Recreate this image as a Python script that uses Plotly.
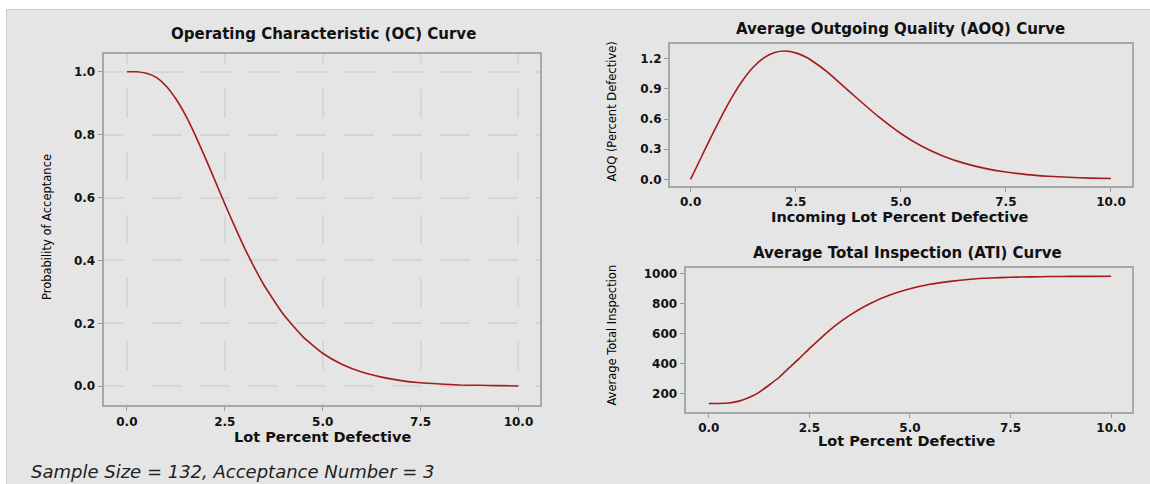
import plotly.graph_objects as go

# ---------------- data ----------------
lot_pct = [0.0, 0.25, 0.5, 0.75, 1.0, 1.25, 1.5, 1.75, 2.0, 2.25, 2.5, 2.75, 3.0, 3.25, 3.5,
           4.0, 4.5, 5.0, 5.5, 6.0, 6.5, 7.0, 7.5, 8.0, 8.5, 9.0, 9.5, 10.0]
prob_accept = [1.000, 1.000, 0.995, 0.982, 0.955, 0.914, 0.861, 0.797, 0.727, 0.654, 0.580,
               0.509, 0.441, 0.379, 0.322,
               0.228, 0.157, 0.105, 0.069, 0.045, 0.029, 0.018, 0.011, 0.007, 0.004, 0.003,
               0.002, 0.001]
aoq_pct = [0.000, 0.217, 0.432, 0.639, 0.829, 0.992, 1.121, 1.211, 1.262, 1.277, 1.259,
           1.215, 1.148, 1.069, 0.978,
           0.792, 0.613, 0.456, 0.329, 0.233, 0.161, 0.109, 0.072, 0.047, 0.031, 0.020,
           0.012, 0.008]
ati = [132, 132, 136, 148, 172, 207, 256, 308, 372, 434, 500,
       562, 622, 675, 722,
       800, 858, 900, 930, 950, 964, 972, 977, 980, 982, 983, 983, 984]

x_ticks = [0, 2.5, 5, 7.5, 10]
oc_ticks = [0.0, 0.2, 0.4, 0.6, 0.8, 1.0]
aoq_ticks = [0.0, 0.3, 0.6, 0.9, 1.2]
ati_ticks = [200, 400, 600, 800, 1000]

oc_title = "Operating Characteristic (OC) Curve"
aoq_title = "Average Outgoing Quality (AOQ) Curve"
ati_title = "Average Total Inspection (ATI) Curve"
footnote = "Sample Size = 132, Acceptance Number = 3"

# ---------------- styling ----------------
W, H = 1150, 484
RED = "#a31b1b"
TXT = "#111111"
BORDER = "#a8a8a8"
GRID = "#d6d6d6"


def fx(px):
    return px / W


def fy(py):
    return 1 - py / H


tickfont = dict(family="DejaVu Sans", size=12, color=TXT, weight="bold")
titlefont = dict(family="DejaVu Sans", size=15, color=TXT, weight="bold")
xtitlefont = dict(family="DejaVu Sans", size=14.5, color=TXT, weight="bold")
ytitlefont = dict(family="DejaVu Sans", size=11.5, color="#000000")

fig = go.Figure()
line = dict(color=RED, width=1.6, shape="spline", smoothing=0.5)
fig.add_trace(go.Scatter(x=lot_pct, y=prob_accept, mode="lines", line=line,
                         xaxis="x", yaxis="y", hoverinfo="x+y"))
fig.add_trace(go.Scatter(x=lot_pct, y=aoq_pct, mode="lines", line=line,
                         xaxis="x2", yaxis="y2", hoverinfo="x+y"))
fig.add_trace(go.Scatter(x=lot_pct, y=ati, mode="lines", line=line,
                         xaxis="x3", yaxis="y3", hoverinfo="x+y"))

common = dict(ticks="outside", ticklen=4, tickwidth=1, tickcolor="#9a9a9a",
              showline=True, mirror=True, linecolor=BORDER, linewidth=2,
              zeroline=False, tickfont=tickfont, fixedrange=True)

hdash = "19px,29px" + ",30px,18px" * 10
vdash = "9px,26px" + ",29px,34px" * 6

fig.update_layout(
    width=W, height=H,
    margin=dict(l=0, r=0, t=0, b=0),
    paper_bgcolor="white", plot_bgcolor="white",
    showlegend=False,
    xaxis=dict(domain=[fx(103.6), fx(540)], range=[-0.595, 10.55], anchor="y",
               tickvals=x_ticks, tickformat=".1f",
               showgrid=True, gridcolor=GRID, gridwidth=1.5, griddash=vdash, **common),
    yaxis=dict(domain=[fy(406), fy(53.7)], range=[-0.0606, 1.055], anchor="x",
               tickvals=oc_ticks, tickformat=".1f",
               showgrid=True, gridcolor=GRID, gridwidth=1.5, griddash=hdash, **common),
    xaxis2=dict(domain=[fx(670), fx(1132)], range=[-0.49, 10.5], anchor="y2",
                tickvals=x_ticks, tickformat=".1f", showgrid=False, **common),
    yaxis2=dict(domain=[fy(185.7), fy(42.7)], range=[-0.066, 1.352], anchor="x2",
                tickvals=aoq_ticks, tickformat=".1f", showgrid=False, **common),
    xaxis3=dict(domain=[fx(685.5), fx(1132)], range=[-0.58, 10.52], anchor="y3",
                tickvals=x_ticks, tickformat=".1f", showgrid=False, **common),
    yaxis3=dict(domain=[fy(412.3), fy(268)], range=[78, 1040], anchor="x3",
                tickvals=ati_ticks, tickformat="d", showgrid=False, **common),
)

# gray panel behind everything
fig.add_shape(type="rect", xref="paper", yref="paper",
              x0=fx(6.5), x1=fx(1151), y0=fy(486), y1=fy(8.5),
              fillcolor="#e5e5e5", line=dict(color="#cdcdcd", width=1), layer="below")

ann = []


def add_text(text, px, py, font, angle=0, xanchor="center"):
    ann.append(dict(text=text, x=fx(px), y=fy(py), xref="paper", yref="paper",
                    showarrow=False, font=font, textangle=angle,
                    xanchor=xanchor, yanchor="middle"))


add_text(oc_title, 323, 33, titlefont)
add_text("Lot Percent Defective", 322, 437.7, xtitlefont)
add_text("Probability of Acceptance", 47, 227, ytitlefont, angle=-90)

add_text(aoq_title, 900.5, 28, titlefont)
add_text("Incoming Lot Percent Defective", 899.6, 216.7, xtitlefont)
add_text("AOQ (Percent Defective)", 612, 111, ytitlefont, angle=-90)

add_text(ati_title, 907.6, 253.3, titlefont)
add_text("Lot Percent Defective", 906.4, 441.7, xtitlefont)
add_text("Average Total Inspection", 612, 336, ytitlefont, angle=-90)

add_text(footnote, 28.6, 472, dict(family="DejaVu Sans", size=18, color="#222222",
                                   style="italic"), xanchor="left")

fig.update_layout(annotations=ann)

fig.write_html("out.html")
